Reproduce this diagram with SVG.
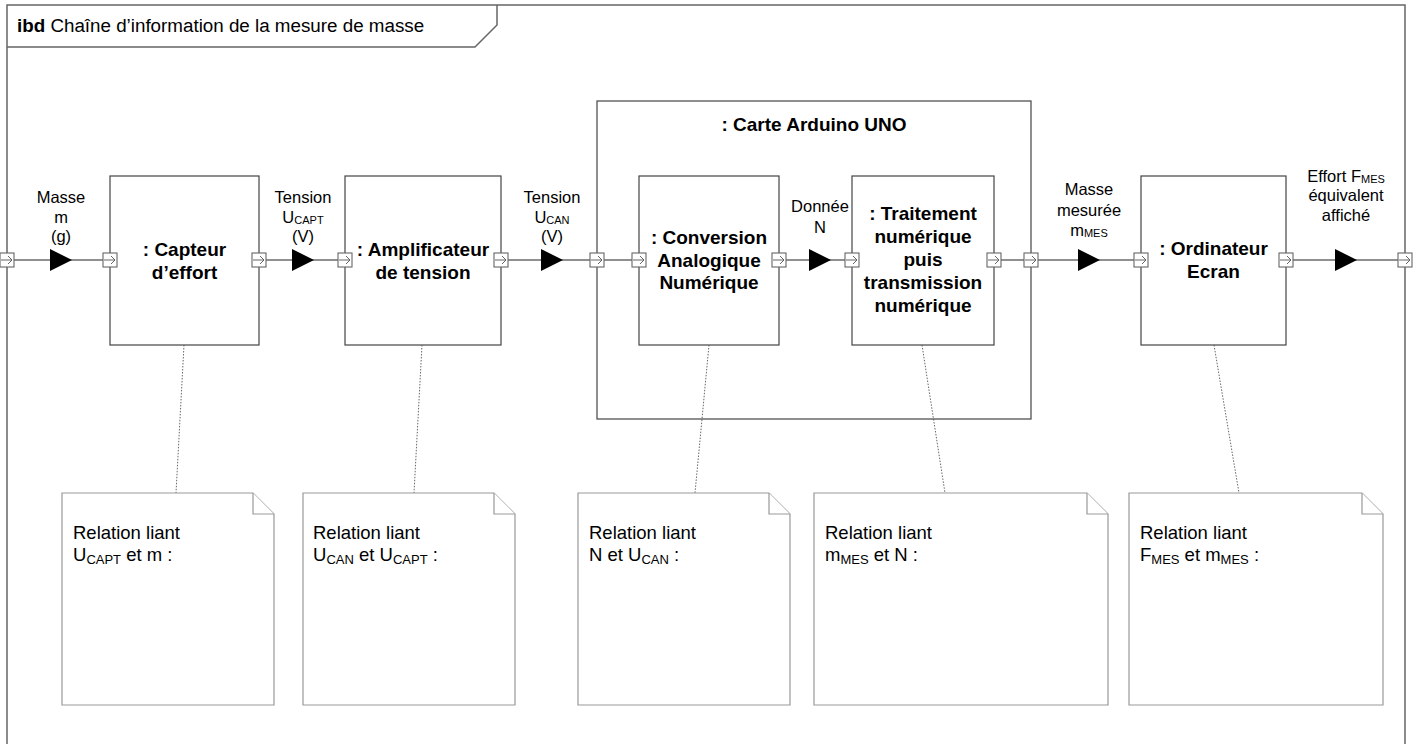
<svg xmlns="http://www.w3.org/2000/svg" xmlns:xlink="http://www.w3.org/1999/xlink" width="1419" height="744" viewBox="0 0 1419 744">
<style>
text{font-family:"Liberation Sans",Arial,sans-serif;fill:#000}
.lbl{font-size:16.5px;text-anchor:middle}
.blk{font-size:19px;font-weight:bold;text-anchor:middle}
.note-t{font-size:18.5px}
.box{fill:#fff;stroke:#444;stroke-width:1.2}
.note{fill:#fff;stroke:#999;stroke-width:1.2}
.wire{stroke:#222;stroke-width:1.2;fill:none}
.dot{stroke:#555;stroke-width:0.9;stroke-dasharray:1.5 1.5;fill:none}
.frame{fill:none;stroke:#666;stroke-width:1.5}
</style>
<defs>
<g id="port">
<rect x="-7" y="-7" width="14" height="14" fill="#fff" stroke="#666" stroke-width="1.1"/>
<path d="M-6,0H5M1,-4L5,0L1,4" fill="none" stroke="#555" stroke-width="0.9"/>
</g>
<path id="tri" d="M0,-11L22,0L0,11Z" fill="#000"/>
</defs>

<g id="frame">
<path class="frame" d="M7,750V5H1405V750"/>
<path class="frame" d="M7,47H475L497,25V5"/>
<text x="17" y="32" font-size="18.8"><tspan font-weight="bold">ibd</tspan> Chaîne d’information de la mesure de masse</text>
</g>

<g id="carte">
<rect class="box" x="597" y="101" width="434" height="318"/>
<text class="blk" x="814" y="131">: Carte Arduino UNO</text>
</g>

<g id="capteur">
<rect class="box" x="110" y="176" width="149" height="169"/>
<text class="blk" x="184.5" y="256">: Capteur</text>
<text class="blk" x="184.5" y="279">d’effort</text>
</g>

<g id="amplificateur">
<rect class="box" x="345" y="176" width="156" height="169"/>
<text class="blk" x="423" y="256">: Amplificateur</text>
<text class="blk" x="423" y="279">de tension</text>
</g>

<g id="conversion">
<rect class="box" x="639" y="176" width="140" height="169"/>
<text class="blk" x="709" y="244">: Conversion</text>
<text class="blk" x="709" y="266.5">Analogique</text>
<text class="blk" x="709" y="289">Numérique</text>
</g>

<g id="traitement">
<rect class="box" x="852" y="176" width="142" height="169"/>
<text class="blk" x="923" y="220">: Traitement</text>
<text class="blk" x="923" y="243">numérique</text>
<text class="blk" x="923" y="266">puis</text>
<text class="blk" x="923" y="289">transmission</text>
<text class="blk" x="923" y="312">numérique</text>
</g>

<g id="ordinateur">
<rect class="box" x="1141" y="176" width="145" height="169"/>
<text class="blk" x="1213.5" y="255">: Ordinateur</text>
<text class="blk" x="1213.5" y="278">Ecran</text>
</g>

<g id="connectors">
<path class="wire" d="M7,260H110M259,260H345M501,260H597M597,260H639M779,260H852M994,260H1031M1031,260H1141M1286,260H1405"/>
<use href="#tri" x="50" y="260"/>
<use href="#tri" x="292" y="260"/>
<use href="#tri" x="541" y="260"/>
<use href="#tri" x="809" y="260"/>
<use href="#tri" x="1078" y="260"/>
<use href="#tri" x="1335" y="260"/>
<path class="dot" d="M184,345L176,493M422,345L414,493M709,345L695,493M922,345L945,493M1214,345L1239,493"/>
</g>

<g id="ports">
<use href="#port" x="7" y="260"/>
<use href="#port" x="110" y="260"/>
<use href="#port" x="259" y="260"/>
<use href="#port" x="345" y="260"/>
<use href="#port" x="501" y="260"/>
<use href="#port" x="597" y="260"/>
<use href="#port" x="639" y="260"/>
<use href="#port" x="779" y="260"/>
<use href="#port" x="852" y="260"/>
<use href="#port" x="994" y="260"/>
<use href="#port" x="1031" y="260"/>
<use href="#port" x="1141" y="260"/>
<use href="#port" x="1286" y="260"/>
<use href="#port" x="1405" y="260"/>
</g>

<g id="flow-labels">
<text class="lbl" x="61" y="203">Masse</text>
<text class="lbl" x="61" y="223">m</text>
<text class="lbl" x="61" y="242">(g)</text>
<text class="lbl" x="303" y="203">Tension</text>
<text class="lbl" x="303" y="223">U<tspan font-size="11" dy="1">CAPT</tspan></text>
<text class="lbl" x="303" y="242">(V)</text>
<text class="lbl" x="552" y="203">Tension</text>
<text class="lbl" x="552" y="223">U<tspan font-size="11" dy="1">CAN</tspan></text>
<text class="lbl" x="552" y="242">(V)</text>
<text class="lbl" x="820" y="212">Donnée</text>
<text class="lbl" x="820" y="233">N</text>
<text class="lbl" x="1089" y="195">Masse</text>
<text class="lbl" x="1089" y="216">mesurée</text>
<text class="lbl" x="1089" y="236">m<tspan font-size="11" dy="1">MES</tspan></text>
<text class="lbl" x="1346" y="182">Effort F<tspan font-size="11" dy="1">MES</tspan></text>
<text class="lbl" x="1346" y="201">équivalent</text>
<text class="lbl" x="1346" y="221">affiché</text>
</g>

<g id="note1">
<path class="note" d="M62,493H253L274,514V705H62Z"/>
<path class="note" d="M253,493V514H274"/>
<text class="note-t" x="73" y="539">Relation liant</text>
<text class="note-t" x="73" y="561">U<tspan font-size="13" dy="3">CAPT</tspan><tspan dy="-3"> et m :</tspan></text>
</g>
<g id="note2">
<path class="note" d="M303,493H494L515,514V705H303Z"/>
<path class="note" d="M494,493V514H515"/>
<text class="note-t" x="313" y="539">Relation liant</text>
<text class="note-t" x="313" y="561">U<tspan font-size="13" dy="3">CAN</tspan><tspan dy="-3"> et U</tspan><tspan font-size="13" dy="3">CAPT</tspan><tspan dy="-3"> :</tspan></text>
</g>
<g id="note3">
<path class="note" d="M578,493H769L790,514V705H578Z"/>
<path class="note" d="M769,493V514H790"/>
<text class="note-t" x="589" y="539">Relation liant</text>
<text class="note-t" x="589" y="561">N et U<tspan font-size="13" dy="3">CAN</tspan><tspan dy="-3"> :</tspan></text>
</g>
<g id="note4">
<path class="note" d="M814,493H1087L1108,514V705H814Z"/>
<path class="note" d="M1087,493V514H1108"/>
<text class="note-t" x="825" y="539">Relation liant</text>
<text class="note-t" x="825" y="561">m<tspan font-size="13" dy="3">MES</tspan><tspan dy="-3"> et N :</tspan></text>
</g>
<g id="note5">
<path class="note" d="M1129,493H1362L1383,514V705H1129Z"/>
<path class="note" d="M1362,493V514H1383"/>
<text class="note-t" x="1140" y="539">Relation liant</text>
<text class="note-t" x="1140" y="561">F<tspan font-size="13" dy="3">MES</tspan><tspan dy="-3"> et m</tspan><tspan font-size="13" dy="3">MES</tspan><tspan dy="-3"> :</tspan></text>
</g>
</svg>
